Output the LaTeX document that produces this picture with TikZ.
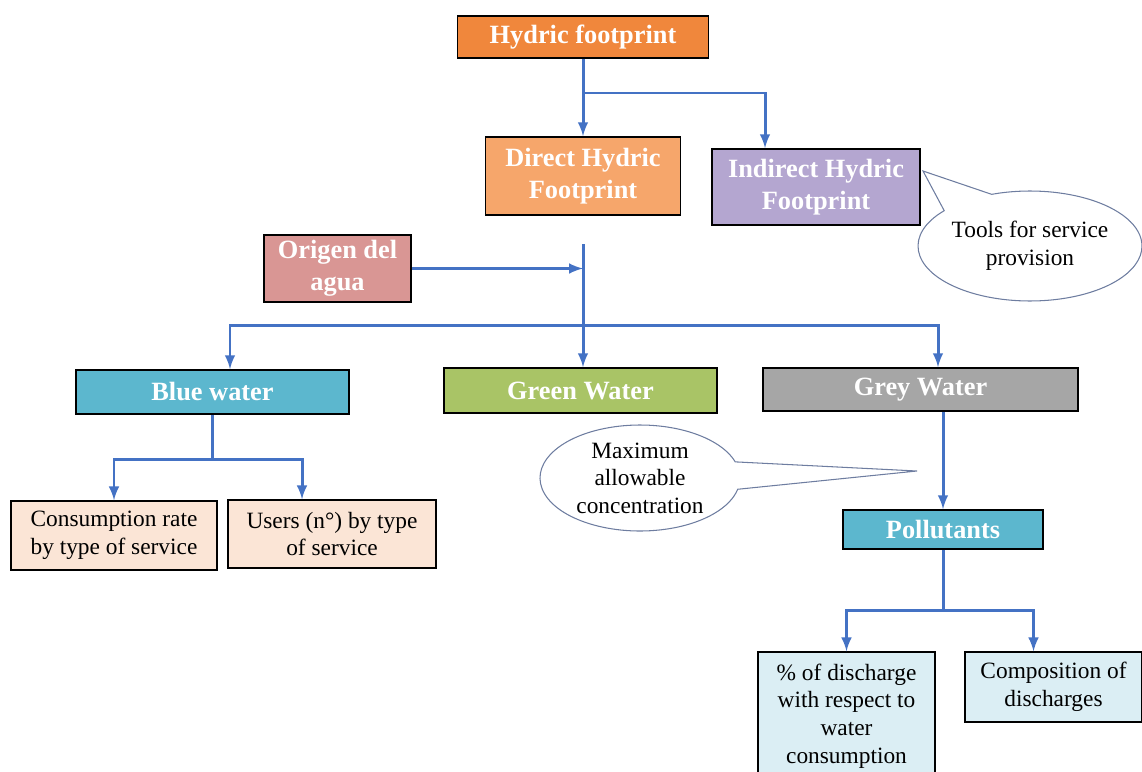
\documentclass[tikz,border=0pt]{standalone}
\usepackage{fontspec}
\setmainfont{Liberation Serif}
\usepackage{tikz}
\usetikzlibrary{shapes.callouts}
\definecolor{hfOrange}{RGB}{240,135,60}
\definecolor{dhfOrange}{RGB}{246,166,107}
\definecolor{ihfLilac}{RGB}{180,166,208}
\definecolor{odaRose}{RGB}{217,150,148}
\definecolor{bwBlue}{RGB}{92,183,206}
\definecolor{gwGreen}{RGB}{169,196,102}
\definecolor{grwGrey}{RGB}{166,166,166}
\definecolor{peach}{RGB}{251,229,214}
\definecolor{paleBlue}{RGB}{219,238,244}
\definecolor{linkBlue}{RGB}{68,114,196}
\definecolor{bubbleLine}{RGB}{110,125,160}

\begin{document}
\begin{tikzpicture}[>=latex, x=0.02cm, y=-0.02cm,
  hbox/.style={draw=black, line width=1pt, inner sep=2pt, align=center,
    text=white, font=\fontsize{15}{18}\selectfont\bfseries},
  lbox/.style={draw=black, line width=0.8pt, inner sep=2pt, align=center,
    font=\fontsize{13.3}{15.7}\selectfont},
  link/.style={draw=linkBlue, line width=1.7pt},
  bubble/.style={ellipse callout, draw=bubbleLine, fill=white, line width=0.6pt,
    align=center, inner sep=0pt, callout pointer arc=30,
    font=\fontsize{13.3}{15.7}\selectfont}]

  \useasboundingbox (0,0) rectangle (1142,771);

  \begin{scope}

  % top level
  \node[hbox, fill=hfOrange, minimum width=5.02cm, minimum height=0.84cm] (hf) at (583,37) {Hydric footprint};
  \node[hbox, fill=dhfOrange, minimum width=3.9cm, minimum height=1.56cm] (dhf) at (583,176) {Direct Hydric\\Footprint};
  \node[hbox, fill=ihfLilac, minimum width=4.16cm, minimum height=1.52cm] (ihf) at (816,187) {Indirect Hydric\\Footprint};

  \coordinate (tip1) at (923,171);
  \node[bubble, minimum width=4.48cm, minimum height=2.2cm, callout absolute pointer={(tip1)}] (tools) at (1030,246) {Tools for service\\provision};

  % water origin and the three waters
  \node[hbox, fill=odaRose, minimum width=2.94cm, minimum height=1.34cm] (oda) at (337.5,268.5) {Origen del\\agua};

  \node[hbox, fill=bwBlue, minimum width=5.46cm, minimum height=0.88cm] (bw) at (212.5,392) {Blue water};
  \node[hbox, fill=gwGreen, minimum width=5.46cm, minimum height=0.9cm] (gw) at (580.5,390.5) {Green Water};
  \node[hbox, fill=grwGrey, minimum width=6.3cm, minimum height=0.86cm] (grw) at (920.5,389.5) {Grey Water};

  \node[lbox, fill=peach, minimum width=4.12cm, minimum height=1.38cm] (cr) at (114,535.5) {Consumption rate\\by type of service};
  \node[lbox, fill=peach, minimum width=4.16cm, minimum height=1.36cm] (us) at (332,534) {Users (n°) by type\\of service};

  \coordinate (tip2) at (917,471);
  \node[bubble, minimum width=4.0cm, minimum height=2.12cm, callout absolute pointer={(tip2)}] (mac) at (640,478) {Maximum\\allowable\\concentration};

  \node[hbox, fill=bwBlue, minimum width=4.0cm, minimum height=0.78cm] (pol) at (943,529.5) {Pollutants};

  \node[lbox, fill=paleBlue, minimum width=3.54cm, minimum height=2.56cm] (pd) at (846.5,716) {\% of discharge\\with respect to\\water\\consumption};
  \node[lbox, fill=paleBlue, minimum width=3.54cm, minimum height=1.4cm] (cd) at (1053.5,687) {Composition of\\discharges};

  % connectors
  \coordinate (j1) at (583,93);
  \draw[link,->] (hf.south) -- (dhf.north);
  \draw[link,->] (j1) -| ([xshift=-1.02cm]ihf.north);

  \coordinate (t1) at (583,244);
  \coordinate (j2) at (583,325);
  \draw[link,->] (t1) -- (t1 |- gw.north);
  \draw[link,->] (oda.east) -- (oda.east -| t1);
  \draw[link,->] (j2) -| ([xshift=0.35cm]bw.north);
  \draw[link,->] (j2) -| ([xshift=0.35cm]grw.north);

  \coordinate (j3) at (212.5,459);
  \draw[link] (bw.south) -- (j3);
  \draw[link,->] (j3) -| (cr.north);
  \draw[link,->] (j3) -| ([xshift=-0.6cm]us.north);

  \draw[link,->] (grw.south -| pol.north) -- (pol.north);

  \coordinate (j4) at (943,610);
  \draw[link] (pol.south) -- (j4);
  \draw[link,->] (j4) -| (pd.north);
  \draw[link,->] (j4) -| ([xshift=-0.4cm]cd.north);

  \end{scope}
\end{tikzpicture}
\end{document}
